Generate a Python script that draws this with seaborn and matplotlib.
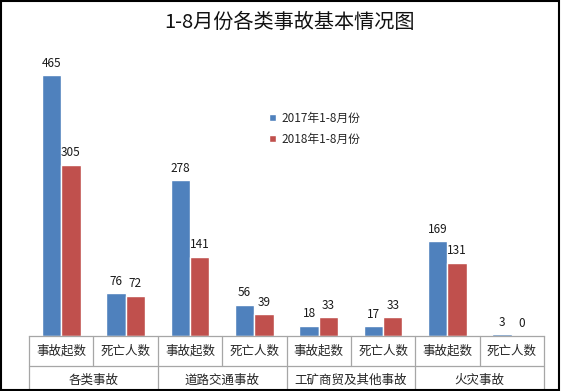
import pandas as pd
import matplotlib
matplotlib.use("Agg")
import matplotlib.pyplot as plt
import seaborn as sns
from matplotlib.patches import Rectangle
from matplotlib.lines import Line2D

# data
groups = ["各类事故", "道路交通事故", "工矿商贸及其他事故", "火灾事故"]
metrics = ["事故起数", "死亡人数"]
series = ["2017年1-8月份", "2018年1-8月份"]
vals_2017 = [465, 76, 278, 56, 18, 17, 169, 3]
vals_2018 = [305, 72, 141, 39, 33, 33, 131, 0]
colors = ["#4F81BD", "#C0504D"]

sns.set_theme(style="white")
plt.rcParams["font.family"] = ["Noto Sans CJK SC", "DejaVu Sans"]

# one row per bar, category id keeps the 8 slots distinct
cats = [f"{g}|{m}" for g in groups for m in metrics]
df = pd.DataFrame({
    "cat": cats * 2,
    "value": vals_2017 + vals_2018,
    "series": [series[0]] * len(cats) + [series[1]] * len(cats),
})

fig = plt.figure(figsize=(5.61, 3.91), dpi=100)
ax = fig.add_axes([29 / 561, 1 - 336 / 391, (544 - 29) / 561, (336 - 50) / 391])

sns.barplot(data=df, x="cat", y="value", hue="series", palette=colors,
            width=0.6, ax=ax, saturation=1, legend=True)

for cont in ax.containers:
    ax.bar_label(cont, padding=4, fontsize=8.5, color="#1a1a1a")

ax.set_ylim(0, 510)
ax.set_xlim(-0.5, len(cats) - 0.5)
ax.set_xlabel("")
ax.set_ylabel("")
ax.set_xticks([])
ax.set_yticks([])
for s in ["left", "right", "top"]:
    ax.spines[s].set_visible(False)
ax.spines["bottom"].set_color("#A6A6A6")
ax.spines["bottom"].set_linewidth(0.9)

# two-level category table below the axis
line_kw = dict(color="#A6A6A6", lw=0.9, transform=ax.get_xaxis_transform(), clip_on=False)
row1 = -30 / 286
row2 = -60 / 286
for i in range(len(cats) + 1):
    bottom = row1 if i % 2 else row2
    ax.add_line(Line2D([i - 0.5, i - 0.5], [0, bottom], **line_kw))
ax.add_line(Line2D([-0.5, len(cats) - 0.5], [row1, row1], **line_kw))

for i, c in enumerate(cats):
    ax.text(i, -15 / 286, c.split("|")[1], ha="center", va="center",
            fontsize=9, transform=ax.get_xaxis_transform())
for j, g in enumerate(groups):
    ax.text(2 * j + 0.5, -44 / 286, g, ha="center", va="center",
            fontsize=9, transform=ax.get_xaxis_transform())

leg = ax.legend(loc="upper left", bbox_to_anchor=(258 / 561, 1 - 101 / 391),
                bbox_transform=fig.transFigure, frameon=False, fontsize=8.5,
                handlelength=0.6, handleheight=0.6, handletextpad=0.5,
                labelspacing=0.7)

fig.text(290 / 561, 1 - 22 / 391, "1-8月份各类事故基本情况图", ha="center",
         va="center", fontsize=14.5, color="#111111")

fig.patches.append(Rectangle((0.002, 0.003), 0.994, 0.994, transform=fig.transFigure,
                             fill=False, edgecolor="black", lw=1.5))

fig.savefig("out.png", dpi=100)
